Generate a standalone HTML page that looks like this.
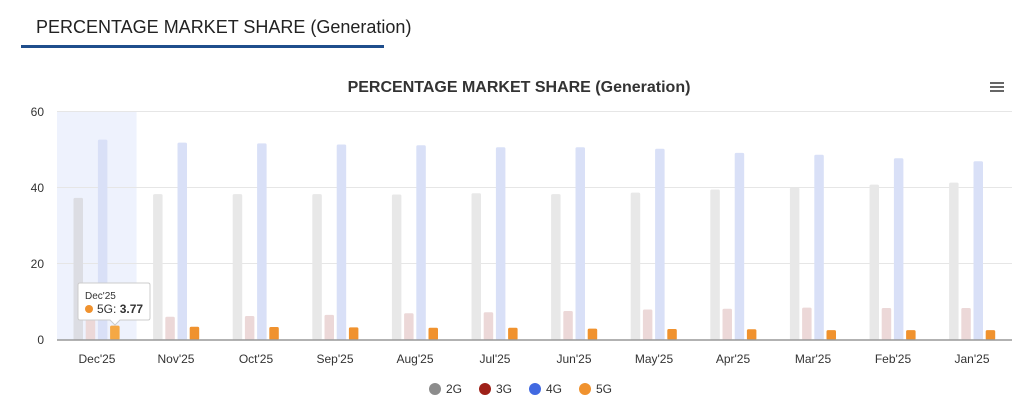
<!DOCTYPE html>
<html><head><meta charset="utf-8"><style>
body{margin:0;background:#fff;width:1024px;height:408px;overflow:hidden;font-family:"Liberation Sans",Arial,sans-serif}
</style></head><body>
<svg width="1024" height="408" xmlns="http://www.w3.org/2000/svg" font-family="Liberation Sans, Arial, sans-serif">
<text x="36" y="33" font-size="18" fill="#222">PERCENTAGE MARKET SHARE (Generation)</text>
<rect x="21" y="45" width="363" height="3" fill="#1f4e8c"/>
<text x="519" y="92" font-size="16" font-weight="bold" fill="#333" text-anchor="middle">PERCENTAGE MARKET SHARE (Generation)</text>
<g fill="#666"><rect x="990" y="82" width="14" height="2"/><rect x="990" y="86" width="14" height="2"/><rect x="990" y="90" width="14" height="2"/></g>
<rect x="57" y="111" width="79.6" height="229" fill="#eef2fd"/>
<g stroke="#e6e6e6" stroke-width="1">
<line x1="57" y1="111.5" x2="1012" y2="111.5"/><line x1="57" y1="187.5" x2="1012" y2="187.5"/><line x1="57" y1="263.5" x2="1012" y2="263.5"/>
</g>
<g font-size="12" fill="#333" text-anchor="end">
<text x="44" y="116">60</text><text x="44" y="192">40</text><text x="44" y="268">20</text><text x="44" y="344">0</text>
</g>
<g id="bars"></g>
<line x1="57" y1="340" x2="1012" y2="340" stroke="#999" stroke-width="1.5"/>
<g font-size="12" fill="#333" text-anchor="middle">
<text x="97" y="363">Dec'25</text><text x="176" y="363">Nov'25</text><text x="256" y="363">Oct'25</text><text x="335" y="363">Sep'25</text><text x="415" y="363">Aug'25</text><text x="495" y="363">Jul'25</text><text x="574" y="363">Jun'25</text><text x="654" y="363">May'25</text><text x="733" y="363">Apr'25</text><text x="813" y="363">Mar'25</text><text x="893" y="363">Feb'25</text><text x="972" y="363">Jan'25</text>
</g>
<g font-size="12" fill="#333">
<circle cx="435" cy="389" r="6" fill="#8c8c8c"/><text x="446" y="393">2G</text>
<circle cx="485" cy="389" r="6" fill="#9e2018"/><text x="496" y="393">3G</text>
<circle cx="535" cy="389" r="6" fill="#4169e1"/><text x="546" y="393">4G</text>
<circle cx="585" cy="389" r="6" fill="#f0922e"/><text x="596" y="393">5G</text>
</g>
<g>
<path d="M80 283 H148 Q150 283 150 285 V318 Q150 320 148 320 H120 L115 325 L110 320 H80 Q78 320 78 318 V285 Q78 283 80 283 Z" fill="#fff" stroke="#ccc" stroke-width="1"/>
<text x="85" y="299" font-size="10" fill="#333">Dec'25</text>
<circle cx="89" cy="309" r="4" fill="#f0922e"/>
<text x="97" y="313" font-size="12" fill="#333">5G: <tspan font-weight="bold">3.77</tspan></text>
</g>
</svg>
<script>
var d={g2:[37.3,38.3,38.3,38.3,38.2,38.5,38.3,38.7,39.5,40,40.8,41.3],
g3:[5.8,6.1,6.3,6.6,7,7.3,7.6,8,8.2,8.5,8.4,8.4],
g4:[52.6,51.8,51.6,51.3,51.1,50.6,50.6,50.2,49.1,48.6,47.7,46.9],
g5:[3.77,3.5,3.4,3.3,3.2,3.2,3.0,2.9,2.8,2.6,2.6,2.6]};
var cols=['#e8e8e8','#ecd8d8','#d9e0f7','#f0922e'],keys=['g2','g3','g4','g5'];
var s='';for(var i=0;i<12;i++){for(var k=0;k<4;k++){var v=d[keys[k]][i],h=v*3.81,x=57+i*79.6+16.5+k*12.2;
var c=cols[k];if(i==0&&k==0)c='#dcdde3';if(i==0&&k==3)c='#f5a845';
s+='<rect x="'+x.toFixed(1)+'" y="'+(340-h).toFixed(1)+'" width="9.5" height="'+h.toFixed(1)+'" rx="1.5" fill="'+c+'"/>';}}
document.getElementById('bars').innerHTML=s;
</script>
</body></html>
